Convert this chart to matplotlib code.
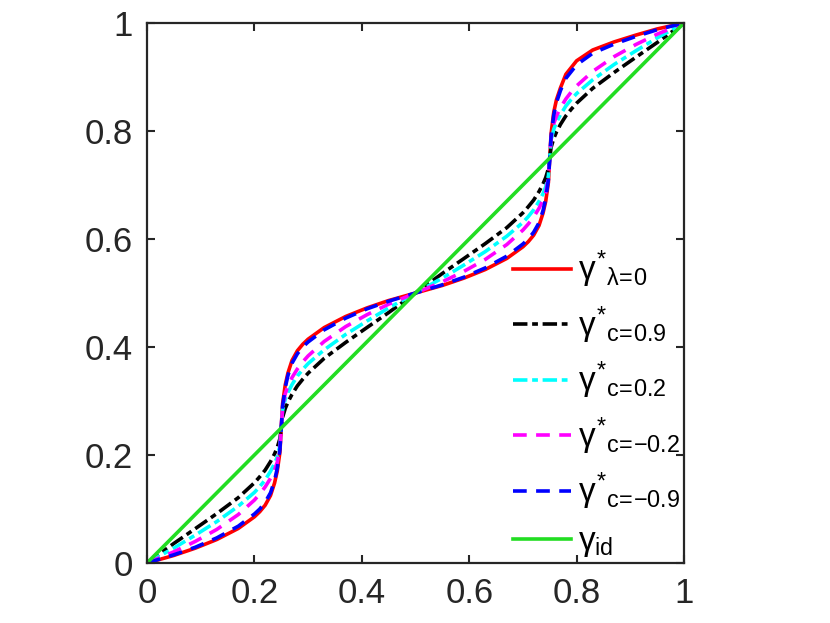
import numpy as np
import matplotlib
matplotlib.use('Agg')
import matplotlib.pyplot as plt

plt.rcParams['font.family'] = ['Liberation Sans', 'DejaVu Sans']
plt.rcParams['mathtext.fontset'] = 'custom'
plt.rcParams['mathtext.rm'] = 'Liberation Sans'
plt.rcParams['mathtext.it'] = 'Liberation Sans'
plt.rcParams['mathtext.bf'] = 'Liberation Sans:bold'

# sample positions (denser where curves are steep)
x_pts = [0, .05, .09, .13, .17, .20, .21, .22, .23, .2375, .2425, .2475, .25,
         .2525, .2575, .2625, .27, .28, .29, .30, .33, .37, .41, .45, .50,
         .55, .59, .63, .67, .70, .71, .72, .73, .7375, .7425, .7475, .75,
         .7525, .7575, .7625, .77, .78, .79, .80, .83, .87, .91, .95, 1.0]

y_lam0 = [0, .014, .0275, .0435, .064, .0855, .095, .107, .125, .148, .170, .205, .25,
          .295, .330, .352, .375, .393, .405, .4145, .436, .4565, .4725, .486, .5,
          .514, .5275, .5435, .564, .5855, .595, .607, .625, .648, .670, .705, .75,
          .795, .835, .858, .88, .905, .9175, .93, .95, .965, .9775, .989, 1.0]

y_c09 = [0, .0362, .0637, .0915, .121, .1485, .1598, .172, .1878, .202, .2138, .2302, .25,
         .2698, .2863, .298, .3123, .328, .3403, .3515, .379, .4085, .4363, .4638, .5,
         .5362, .5637, .5915, .621, .6485, .6598, .672, .6878, .702, .7138, .7302, .75,
         .7698, .7863, .798, .8123, .828, .8403, .8515, .879, .9085, .9363, .9638, 1.0]

y_c02 = [0, .0277, .0517, .0767, .1052, .1307, .1415, .1538, .1698, .184, .1965, .217, .25,
         .283, .3035, .316, .3303, .3463, .3585, .3693, .3948, .4233, .4483, .4723, .5,
         .5277, .5517, .5767, .6052, .6307, .6415, .6538, .6698, .684, .6965, .717, .75,
         .783, .8035, .816, .8303, .8463, .8585, .8693, .8948, .9233, .9483, .9723, 1.0]

y_cm02 = [0, .0207, .04, .0622, .0897, .1165, .1278, .1408, .1568, .1723, .1863, .2125, .25,
          .2875, .3137, .3278, .3433, .3593, .3723, .3835, .4103, .4378, .46, .4793, .5,
          .5207, .54, .5622, .5897, .6165, .6278, .6408, .6568, .6723, .6863, .7125, .75,
          .7875, .8137, .8278, .8433, .8593, .8723, .8835, .9103, .9378, .96, .9793, 1.0]

y_cm09 = [0, .0152, .0292, .0465, .0682, .0907, .10, .1125, .13, .1525, .175, .21, .25,
          .29, .325, .3475, .37, .3875, .40, .4093, .4318, .4535, .4708, .4848, .5,
          .5152, .5292, .5465, .5682, .5907, .60, .6125, .63, .6525, .675, .71, .75,
          .79, .83, .8525, .875, .8975, .91, .9225, .944, .961, .975, .9875, 1.0]

x_id = [0, 1]
y_id = [0, 1]

labels = [r'$\gamma^{*}{}_{\lambda\!=\!0}$',
          r'$\gamma^{*}{}_{\mathrm{c}\!=\!0.9}$',
          r'$\gamma^{*}{}_{\mathrm{c}\!=\!0.2}$',
          r'$\gamma^{*}{}_{\mathrm{c}\!=\!\mathrm{-}0.2}$',
          r'$\gamma^{*}{}_{\mathrm{c}\!=\!\mathrm{-}0.9}$',
          r'$\gamma_{\mathrm{id}}$']

fig = plt.figure(figsize=(8.3, 6.23), dpi=100)
ax = fig.add_axes([147/830, 60/623, 537/830, 540/623])

lw = 2.6
ax.plot(x_pts, y_lam0, color='red', lw=lw, label=labels[0])
ax.plot(x_pts, y_c09, color='black', lw=lw, dashes=(4, 1.3, 1.6, 1.3), label=labels[1])
ax.plot(x_pts, y_c02, color='cyan', lw=lw, dashes=(4, 1.3, 1.6, 1.3), label=labels[2])
ax.plot(x_pts, y_cm02, color='magenta', lw=lw, dashes=(3.8, 2.6), label=labels[3])
ax.plot(x_pts, y_cm09, color='blue', lw=lw, dashes=(3.8, 2.6), label=labels[4])
ax.plot(x_id, y_id, color='#22dd22', lw=lw, label=labels[5])

ax.set_xlim(0, 1)
ax.set_ylim(0, 1)
ax.set_xticks([0, 0.2, 0.4, 0.6, 0.8, 1])
ax.set_yticks([0, 0.2, 0.4, 0.6, 0.8, 1])
ax.set_xticklabels(['0', '0.2', '0.4', '0.6', '0.8', '1'])
ax.set_yticklabels(['0', '0.2', '0.4', '0.6', '0.8', '1'])
ax.tick_params(direction='in', length=6, width=1.5, colors='#262626',
               labelsize=25, top=True, right=True, pad=10)
for s in ax.spines.values():
    s.set_linewidth(1.6)
    s.set_color('#262626')

leg = ax.legend(loc='lower right', bbox_to_anchor=(1.03, -0.03), frameon=False,
                fontsize=24, handlelength=1.75, labelspacing=0.42,
                handletextpad=0.2, borderaxespad=0.2)

fig.savefig('out.png', dpi=100)
